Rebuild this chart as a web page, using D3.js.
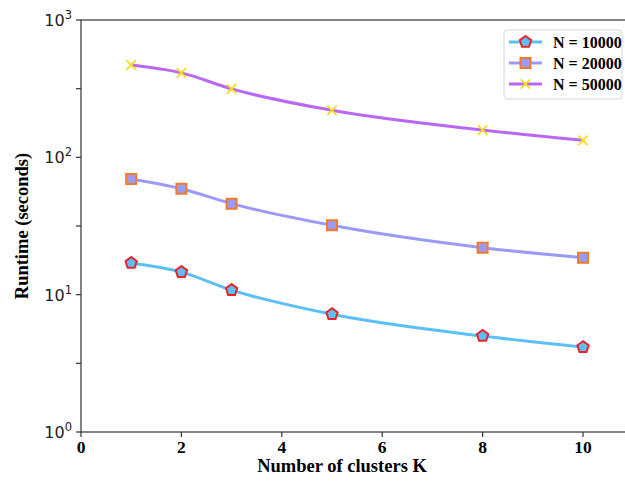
<!DOCTYPE html>
<html>
<head>
<meta charset="utf-8">
<script src="https://cdn.jsdelivr.net/npm/d3@7"></script>
<style>
  body { margin: 0; background: #fff; }
  .serif { font-family: "Liberation Serif", "Times New Roman", serif; font-weight: bold; }
  .sans { font-family: "DejaVu Sans", sans-serif; }
</style>
</head>
<body>
<div class="chart"></div>
<script>
const width = 625;
const height = 481;
const margin = { top: 20, right: -8, bottom: 49, left: 81 };

// data
const clusters = [1, 2, 3, 5, 8, 10];
const runtime10000 = [17.0, 14.6, 10.8, 7.2, 5.0, 4.15];
const runtime20000 = [69.5, 59.0, 46.0, 32.0, 22.0, 18.6];
const runtime50000 = [470, 412, 315, 220, 158, 133];
const xTicks = [0, 2, 4, 6, 8, 10];
const yTicks = [1, 10, 100, 1000];

const pentagon = {
  draw(context, size) {
    const r = Math.sqrt(size / 2.38);
    for (let i = 0; i < 5; i++) {
      const a = -Math.PI / 2 + i * 2 * Math.PI / 5;
      const x = r * Math.cos(a), y = r * Math.sin(a);
      if (i === 0) context.moveTo(x, y); else context.lineTo(x, y);
    }
    context.closePath();
  }
};

const series = [
  { name: 'N = 10000', values: runtime10000, line: '#5cc0f7', fill: '#5cc0f7', edge: '#e8252a', symbol: pentagon, size: 85, sw: 2 },
  { name: 'N = 20000', values: runtime20000, line: '#9b9bf7', fill: '#9b9bf7', edge: '#f27a2b', symbol: d3.symbolSquare, size: 100, sw: 2 },
  { name: 'N = 50000', values: runtime50000, line: '#b868f2', fill: 'none', edge: '#f5dd1c', symbol: d3.symbolTimes, size: 60, sw: 1.8 }
];

const svg = d3.select('.chart').append('svg')
  .attr('xmlns', 'http://www.w3.org/2000/svg')
  .attr('width', width)
  .attr('height', height);

const scaleX = d3.scaleLinear()
  .domain([0, 11])
  .range([margin.left, margin.left + 11 * 50.2]);
const scaleY = d3.scaleLog()
  .domain([1, 1000])
  .range([height - margin.bottom, margin.top]);

const x0 = scaleX(0), x1 = scaleX(11);
const yb = scaleY(1), yt = scaleY(1000);

// frame
svg.append('rect')
  .attr('x', x0).attr('y', yt)
  .attr('width', x1 - x0).attr('height', yb - yt)
  .attr('fill', 'none').attr('stroke', '#333').attr('stroke-width', 1.2);

// x axis
const gx = svg.append('g');
xTicks.forEach((t) => {
  gx.append('line').attr('x1', scaleX(t)).attr('x2', scaleX(t))
    .attr('y1', yb).attr('y2', yb + 5).attr('stroke', '#333').attr('stroke-width', 1.2);
  gx.append('text').attr('class', 'serif')
    .attr('x', scaleX(t)).attr('y', yb + 21)
    .attr('text-anchor', 'middle').attr('font-size', 17.5)
    .text(t);
});
svg.append('text').attr('class', 'serif')
  .attr('x', 342).attr('y', 472)
  .attr('text-anchor', 'middle').attr('font-size', 18.5)
  .text('Number of clusters K');

// y axis
const gy = svg.append('g');
yTicks.forEach((t, i) => {
  gy.append('line').attr('x1', x0 - 5).attr('x2', x0)
    .attr('y1', scaleY(t)).attr('y2', scaleY(t)).attr('stroke', '#333').attr('stroke-width', 1.2);
  const lab = gy.append('text').attr('class', 'sans')
    .attr('x', x0 - 9).attr('y', scaleY(t) + 6)
    .attr('text-anchor', 'end').attr('font-size', 16).attr('fill', '#222');
  lab.append('tspan').text('10');
  lab.append('tspan').attr('dy', -7).attr('font-size', 11.5).text(i);
  if (i < yTicks.length - 1) {
    const mid = t * Math.sqrt(10);
    gy.append('line').attr('x1', x0 - 5).attr('x2', x0)
      .attr('y1', scaleY(mid)).attr('y2', scaleY(mid)).attr('stroke', '#333').attr('stroke-width', 1.2);
  }
});
svg.append('text').attr('class', 'serif')
  .attr('transform', 'translate(28,' + ((yt + yb) / 2) + ') rotate(-90)')
  .attr('text-anchor', 'middle').attr('font-size', 18.5)
  .text('Runtime (seconds)');

// lines and markers
const generatorLine = d3.line()
  .x((d) => scaleX(d.k))
  .y((d) => scaleY(d.v))
  .curve(d3.curveMonotoneX);

series.forEach((s) => {
  const pts = clusters.map((k, i) => ({ k: k, v: s.values[i] }));
  svg.append('path').attr('d', generatorLine(pts))
    .attr('fill', 'none').attr('stroke', s.line).attr('stroke-width', 3);
  svg.append('g').selectAll('path').data(pts).join('path')
    .attr('transform', (d) => 'translate(' + scaleX(d.k) + ',' + scaleY(d.v) + ')')
    .attr('d', d3.symbol().type(s.symbol).size(s.size))
    .attr('fill', s.fill)
    .attr('stroke', s.edge)
    .attr('stroke-width', s.sw);
});

// legend
const legend = svg.append('g').attr('transform', 'translate(504,30)');
legend.append('rect')
  .attr('width', 118).attr('height', 69).attr('rx', 3)
  .attr('fill', '#fff').attr('stroke', '#d8d8d8');
series.forEach((s, i) => {
  const y = 12 + i * 21;
  legend.append('line').attr('x1', 5).attr('x2', 38).attr('y1', y).attr('y2', y)
    .attr('stroke', s.line).attr('stroke-width', 3);
  legend.append('path').attr('transform', 'translate(21.5,' + y + ')')
    .attr('d', d3.symbol().type(s.symbol).size(s.size))
    .attr('fill', s.fill).attr('stroke', s.edge).attr('stroke-width', s.sw);
  legend.append('text').attr('class', 'serif')
    .attr('x', 49).attr('y', y + 5.5).attr('font-size', 16)
    .text(s.name);
});
</script>
</body>
</html>
